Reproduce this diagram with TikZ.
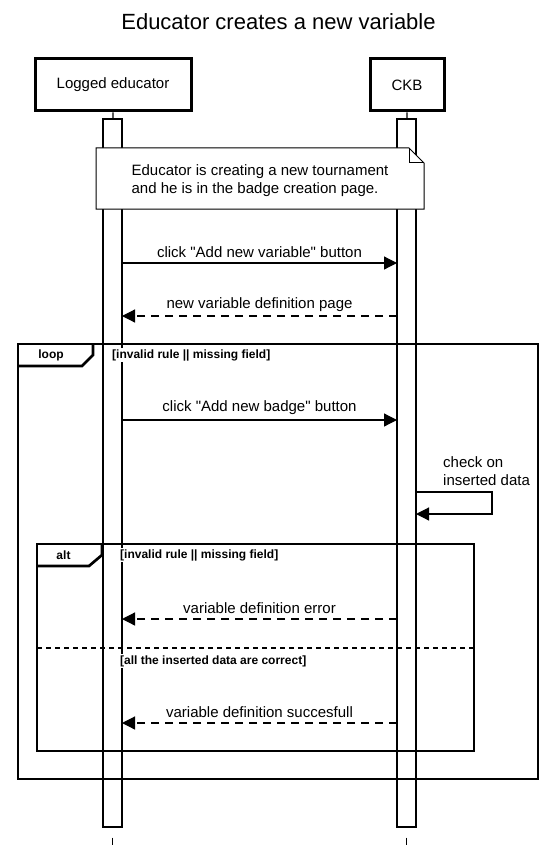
\documentclass[tikz,border=0pt]{standalone}
\usepackage{fontspec}
\setmainfont{Liberation Sans}
\usetikzlibrary{arrows.meta}

\begin{document}
\begin{tikzpicture}[
  x=1pt, y=-1pt,
  actor/.style={draw, line width=3pt, minimum height=52pt, inner sep=0pt,
                font=\fontsize{15}{18}\selectfont},
  bar/.style={draw, line width=1.3pt, fill=white, minimum width=19pt,
              minimum height=708pt, inner sep=0pt},
  msg/.style={line width=1.2pt, -{Triangle[length=13pt,width=13pt]}},
  reply/.style={msg, dash pattern=on 8pt off 6pt},
  lbl/.style={inner sep=0pt, font=\fontsize{15}{18}\selectfont},
  frame/.style={line width=2.7pt},
  guard/.style={anchor=west, fill=white, inner sep=1pt,
                font=\bfseries\fontsize{12}{14}\selectfont},
  tag/.style={inner sep=0pt, font=\bfseries\fontsize{12}{14}\selectfont}
]
\useasboundingbox (0,0) rectangle (557,845);

\node[inner sep=0pt, font=\fontsize{22}{26}\selectfont] (title) at (278.5,22) {Educator creates a new variable};

\node[bar] (barE) at (112.5,473) {};
\node[bar] (barC) at (406.5,473) {};
\node[actor, minimum width=156pt] (edu) at (113,85) {Logged educator};
\node[actor, minimum width=74pt]  (ckb) at (407,85) {CKB};
\coordinate (endE) at (112.5,845);
\coordinate (endC) at (406.5,845);

\draw[line width=1.3pt] (edu) -- (barE);
\draw[line width=1.3pt] (ckb) -- (barC);
\draw[line width=1.3pt, dash pattern=on 8pt off 6pt] (barE.south) ++(0,10) -- (endE);
\draw[line width=1.3pt, dash pattern=on 8pt off 6pt] (barC.south) ++(0,10) -- (endC);

\draw[line width=1pt, fill=white] (96,148) -- (409,148) -- (424,163) -- (424,209) -- (96,209) -- cycle;
\draw[line width=1pt] (409,148) -- (409,163) -- (424,163);
\node[lbl, align=left] (note) at (260,180.5) {Educator is creating a new tournament\\and he is in the badge creation page.};

\coordinate (m1e) at (122,263);  \coordinate (m1c) at (397,263);
\coordinate (m2e) at (122,316);  \coordinate (m2c) at (397,316);
\coordinate (m3e) at (122,420);  \coordinate (m3c) at (397,420);
\coordinate (m4e) at (122,619);  \coordinate (m4c) at (397,619);
\coordinate (m5e) at (122,723);  \coordinate (m5c) at (397,723);
\coordinate (s1) at (416,492);   \coordinate (s2) at (492,492);
\coordinate (s3) at (492,514);   \coordinate (s4) at (416,514);

\node[lbl] (l1) at (259.5,252) {click \textquotedbl Add new variable\textquotedbl\ button};
\node[lbl] (l2) at (259.5,305) {new variable definition page};
\node[lbl] (l3) at (259.5,408) {click \textquotedbl Add new badge\textquotedbl\ button};
\node[lbl, align=left, anchor=west] (l4) at (443,471) {check on\\inserted data};
\node[lbl] (l5) at (259.5,608) {variable definition error};
\node[lbl] (l6) at (259.5,712) {variable definition succesfull};

\draw[msg]   (m1e) -- (m1c);
\draw[reply] (m2c) -- (m2e);
\draw[msg]   (m3e) -- (m3c);
\draw[msg]   (s1) -- (s2) -- (s3) -- (s4);
\draw[reply] (m4c) -- (m4e);
\draw[reply] (m5c) -- (m5e);

\draw[frame] (18,344) rectangle (538,779);
\draw[frame] (93,344) -- (93,355) -- (82,366) -- (18,366);
\node[tag] (loop) at (51,355) {loop};
\node[guard] (g1) at (111,355) {[invalid rule \textbar\textbar\ missing field]};

\draw[frame] (37,544) rectangle (474,751);
\draw[frame] (102,544) -- (102,555) -- (89,566) -- (37,566);
\node[tag] (alt) at (63.5,555) {alt};
\node[guard] (g2) at (119,555) {[invalid rule \textbar\textbar\ missing field]};
\draw[frame, dash pattern=on 5pt off 4pt] (37,648) -- (474,648);
\node[guard] (g3) at (119,661) {[all the inserted data are correct]};
\end{tikzpicture}
\end{document}
